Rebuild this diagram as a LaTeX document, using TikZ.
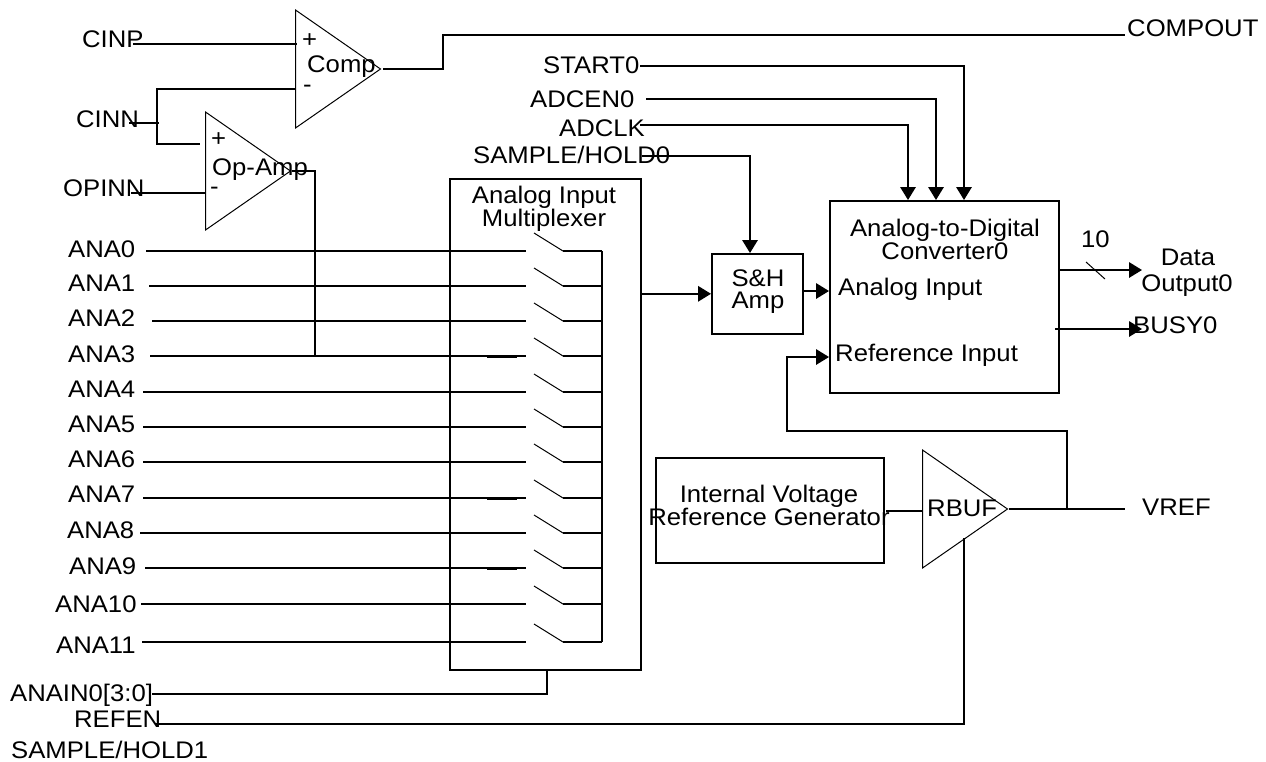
\documentclass[tikz,border=0pt]{standalone}
\usepackage{fontspec}
\setmainfont[FakeStretch=1.07]{Liberation Sans}
\usetikzlibrary{arrows.meta,shapes.geometric}
\tikzset{
  lbl/.style={anchor=base west,inner sep=0pt,font=\fontsize{24}{24}\selectfont},
  ctr/.style={anchor=base,inner sep=0pt,font=\fontsize{24}{24}\selectfont},
  wire/.style={line width=1.6pt},
  arr/.style={wire,-{Triangle[length=13pt,width=15.5pt]}},
  thin line/.style={line width=1pt},
  box/.style={draw,line width=1.6pt,inner sep=0pt,anchor=north west},
  amp/.style={draw,line width=1pt,isosceles triangle,isosceles triangle stretches,inner sep=0pt,anchor=lower side,minimum width=118pt,minimum height=85pt},
}
\begin{document}
\begin{tikzpicture}[x=1pt,y=-1pt]
\useasboundingbox (0,0) rectangle (1266,761);
% amplifiers
\node[amp] (comp) at (295,69) {};
\node[amp] (opamp) at (205,171) {};
\node[amp] (rbuf) at (922,509) {};
% boxes
\node[box,minimum width=191pt,minimum height=491pt] (mux) at (449,178) {};
\node[box,minimum width=91pt,minimum height=80pt] (sh) at (711,253) {};
\node[box,minimum width=229pt,minimum height=192pt] (adc) at (829,200) {};
\node[box,minimum width=228pt,minimum height=105pt] (ivrg) at (655,457) {};
% labels
\node[lbl] (tcinp) at (82,47) {CINP};
\node[lbl] (tcinn) at (76,127) {CINN};
\node[lbl] (topinn) at (63,196) {OPINN};
\node[lbl] (tcomp) at (307,72) {Comp};
\node[lbl] (tcp) at (302,47) {+};
\node[lbl] (tcm) at (303,92) {-};
\node[lbl] (top) at (212,175) {Op-Amp};
\node[lbl] (top1) at (211,146) {+};
\node[lbl] (top2) at (210,194) {-};
\node[lbl] (tstart) at (543,73) {START0};
\node[lbl] (tadcen) at (530,107) {ADCEN0};
\node[lbl] (tadclk) at (559,136) {ADCLK};
\node[lbl] (tsh0) at (473,163) {SAMPLE/HOLD0};
\node[lbl] (tcompout) at (1127,36) {COMPOUT};
\node[ctr] (tmux1) at (544,203) {Analog Input};
\node[ctr] (tmux2) at (544,226) {Multiplexer};
\node[ctr] (tsh1) at (758,286) {S\&H};
\node[ctr] (tsh2) at (758,308) {Amp};
\node[ctr] (tadc1) at (945,236) {Analog-to-Digital};
\node[ctr] (tadc2) at (945,259) {Converter0};
\node[lbl] (tai) at (838,295) {Analog Input};
\node[lbl] (tri) at (835,361) {Reference Input};
\node[lbl] (t10) at (1081,247) {10};
\node[ctr] (td1) at (1188,265) {Data};
\node[ctr] (td2) at (1187,291) {Output0};
\node[lbl] (tbusy) at (1133,333) {BUSY0};
\node[ctr] (tiv1) at (769,502) {Internal Voltage};
\node[ctr] (tiv2) at (769,525) {Reference Generator};
\node[lbl] (trbuf) at (927,516) {RBUF};
\node[lbl] (tvref) at (1142,515) {VREF};
\node[lbl] (tanain) at (10,701) {ANAIN0[3:0]};
\node[lbl] (trefen) at (74,727) {REFEN};
\node[lbl] (tsh1b) at (11,758) {SAMPLE/HOLD1};
% analog inputs and switches
\foreach \n/\lx/\by/\wx/\wy in {0/68/257/146/251,1/68/291/149/286,2/68/326/152/321,3/68/362/150/356,4/68/397/143/392,5/68/432/143/427,6/68/467/143/462,7/68/502/143/498,8/67/538/140/533,9/69/574/145/568,10/55/612/141/604,11/56/653/142/642}{
  \node[lbl] (ana\n) at (\lx,\by) {ANA\n};
  \coordinate (in\n) at (\wx,\wy);
  \coordinate (sa\n) at (526,\wy);
  \coordinate (sb\n) at (534,\wy-18);
  \coordinate (sc\n) at (563,\wy);
  \coordinate (sd\n) at (602,\wy);
  \draw[wire] (in\n) -- (sa\n);
  \draw[thin line] (sb\n) -- (sc\n);
  \draw[wire] (sc\n) -- (sd\n);
}
\draw[wire] (sd0) -- (sd11);
\foreach \k in {3,7,9}{\draw[wire] ([xshift=-39pt,yshift=-1pt]sa\k) -- ([xshift=-9pt,yshift=-1pt]sa\k);}
% comparator and op-amp wiring
\coordinate (a1) at (133,44);
\coordinate (a2) at (297,44);
\draw[wire] (a1) -- (a2);
\coordinate (b0) at (129,123);
\coordinate (b1) at (159,123);
\draw[wire] (b0) -- (b1);
\coordinate (b2) at (296,89);
\coordinate (b3) at (157,89);
\coordinate (b4) at (157,144);
\coordinate (b5) at (200,144);
\draw[wire] (b2) -- (b3) -- (b4) -- (b5);
\coordinate (c1) at (131,193);
\coordinate (c2) at (206,193);
\draw[wire] (c1) -- (c2);
\coordinate (d1) at (315,171);
\draw[wire] (opamp.apex) -- (d1) -- (in3 -| d1);
\coordinate (e1) at (383,69);
\coordinate (e2) at (443,69);
\coordinate (e3) at (443,35);
\coordinate (e4) at (1125,35);
\draw[wire] (e1) -- (e2) -- (e3) -- (e4);
% control inputs
\coordinate (f1) at (640,66);
\coordinate (f2) at (964,66);
\draw[arr] (f1) -- (f2) -- (f2 |- adc.north);
\coordinate (g1) at (646,99);
\coordinate (g2) at (936,99);
\draw[arr] (g1) -- (g2) -- (g2 |- adc.north);
\coordinate (h1) at (640,125);
\coordinate (h2) at (908,125);
\draw[arr] (h1) -- (h2) -- (h2 |- adc.north);
\coordinate (i1) at (642,156);
\coordinate (i2) at (750,156);
\draw[arr] (i1) -- (i2) -- (i2 |- sh.north);
% signal path
\draw[arr] (mux.east |- sh.west) -- (sh.west);
\coordinate (j1) at (802,291);
\draw[arr] (j1) -- (j1 -| adc.west);
\coordinate (k1) at (1058,270);
\coordinate (k2) at (1142,270);
\draw[arr] (k1) -- (k2);
\coordinate (s1) at (1086,262);
\coordinate (s2) at (1105,279);
\draw[thin line] (s1) -- (s2);
\coordinate (l1) at (1055,329);
\coordinate (l2) at (1142,329);
\draw[arr] (l1) -- (l2);
% reference
\coordinate (m1) at (886,511);
\coordinate (m2) at (922,511);
\draw[wire] (m1) -- (m2);
\coordinate (n1) at (1125,509);
\draw[wire] (rbuf.apex) -- (n1);
\coordinate (o1) at (1067,509);
\coordinate (o2) at (1067,431);
\coordinate (o3) at (787,431);
\coordinate (o4) at (787,357);
\draw[arr] (o1) -- (o2) -- (o3) -- (o4) -- (o4 -| adc.west);
% bottom
\coordinate (p1) at (152,694);
\coordinate (p2) at (547,694);
\coordinate (p3) at (547,671);
\draw[wire] (p1) -- (p2) -- (p3);
\coordinate (q1) at (155,724);
\coordinate (q2) at (964,724);
\coordinate (q3) at (964,538);
\draw[wire] (q1) -- (q2) -- (q3);
\end{tikzpicture}
\end{document}
